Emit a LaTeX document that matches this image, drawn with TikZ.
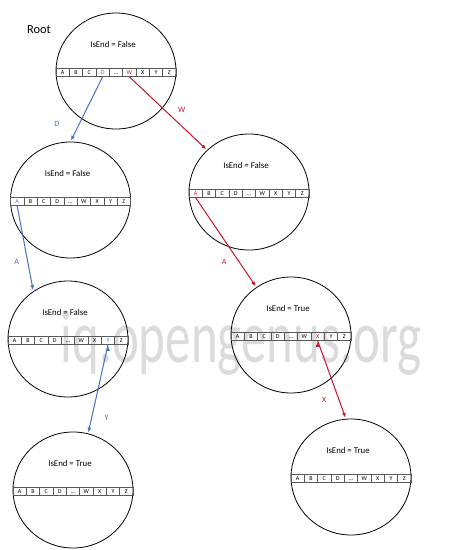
\documentclass[tikz,border=0pt]{standalone}
\usepackage{fontspec}
\setmainfont{Carlito}
\usetikzlibrary{shapes.geometric,arrows.meta,positioning}
\definecolor{trieblue}{RGB}{68,114,196}
\definecolor{triered}{RGB}{204,20,40}

% one trie node: name, centre, IsEnd value, cell letters
\newcommand{\trienode}[4]{%
  \node[trie] (#1) at (#2) {};
  \node[flag] (#1-flag) at ([shift={(-3,-26.5)}]#1.center) {IsEnd = #3};
  \foreach \letter [count=\i] in {#4}
    \node[cell] (#1-\i) at ([shift={(13.33*\i-66.67,1.5)}]#1.center) {\letter};
}

\begin{document}
\begin{tikzpicture}[x=1pt,y=-1pt,shorten >=1pt,
    trie/.style={ellipse,draw,line width=0.8pt,minimum width=120pt,minimum height=116pt,inner sep=0pt},
    flag/.style={inner sep=0pt,font=\fontsize{8.8}{10}\selectfont},
    cell/.style={draw=black!65,line width=0.5pt,minimum width=13.33pt,minimum height=8pt,inner sep=0pt,text height=4pt,text depth=0pt,font=\fontsize{6}{7}\selectfont},
    blueline/.style={->,>={Latex[length=5pt,width=4pt]},draw=trieblue,line width=1pt,text=trieblue,font=\fontsize{8}{9}\selectfont},
    redline/.style={->,>={Latex[length=5pt,width=4pt]},draw=triered,line width=1pt,text=triered,font=\fontsize{8}{9}\selectfont},
    watermark/.style={text=black!14,font=\fontsize{75}{80}\selectfont,xscale=0.68,inner sep=0pt}]
   \useasboundingbox (0,0) rectangle (474,550);
   \node[watermark,anchor=base] (mark) at (241,362) {iq.opengenus.org};
   \node[inner sep=0pt,font=\fontsize{12.4}{14}\selectfont] (rootname) at (39,30) {Root};
   \trienode{root}{116,71}{False}{A,B,C,\textcolor{trieblue}{D},\ldots,\textcolor{triered}{W},X,Y,Z}
   \trienode{d}{70.5,200}{False}{\textcolor{trieblue}{A},B,C,D,\ldots,W,X,Y,Z}
   \trienode{da}{68,339}{False}{A,B,C,D,\ldots,W,X,\textcolor{trieblue}{Y},Z}
   \trienode{day}{73,490}{True}{A,B,C,D,\ldots,W,X,Y,Z}
   \trienode{w}{249,192}{False}{\textcolor{triered}{A},B,C,D,\ldots,W,X,Y,Z}
   \trienode{wa}{291,335}{True}{A,B,C,D,\ldots,W,\textcolor{triered}{X},Y,Z}
   \trienode{wax}{351,477}{True}{A,B,C,D,\ldots,W,X,Y,Z}
    \path[blueline]
    (root-4.south) edge node[pos=0.73,left=16pt] {D} (d.north)
    (d-1.south) edge node[pos=0.66,left=5pt] {A} (da.126)
    (da-8.south) edge node[pos=0.82,right=9pt] {Y} (day.75);
    \path[redline]
    (root-6.south) edge node[pos=0.45,right=10pt] {W} (w.135)
    (w-1.south) edge node[pos=0.72,left=9pt] {A} (wa.126)
    (wa-7.south) edge node[pos=0.76,left=9pt] {X} (wax.95);
\end{tikzpicture}
\end{document}
